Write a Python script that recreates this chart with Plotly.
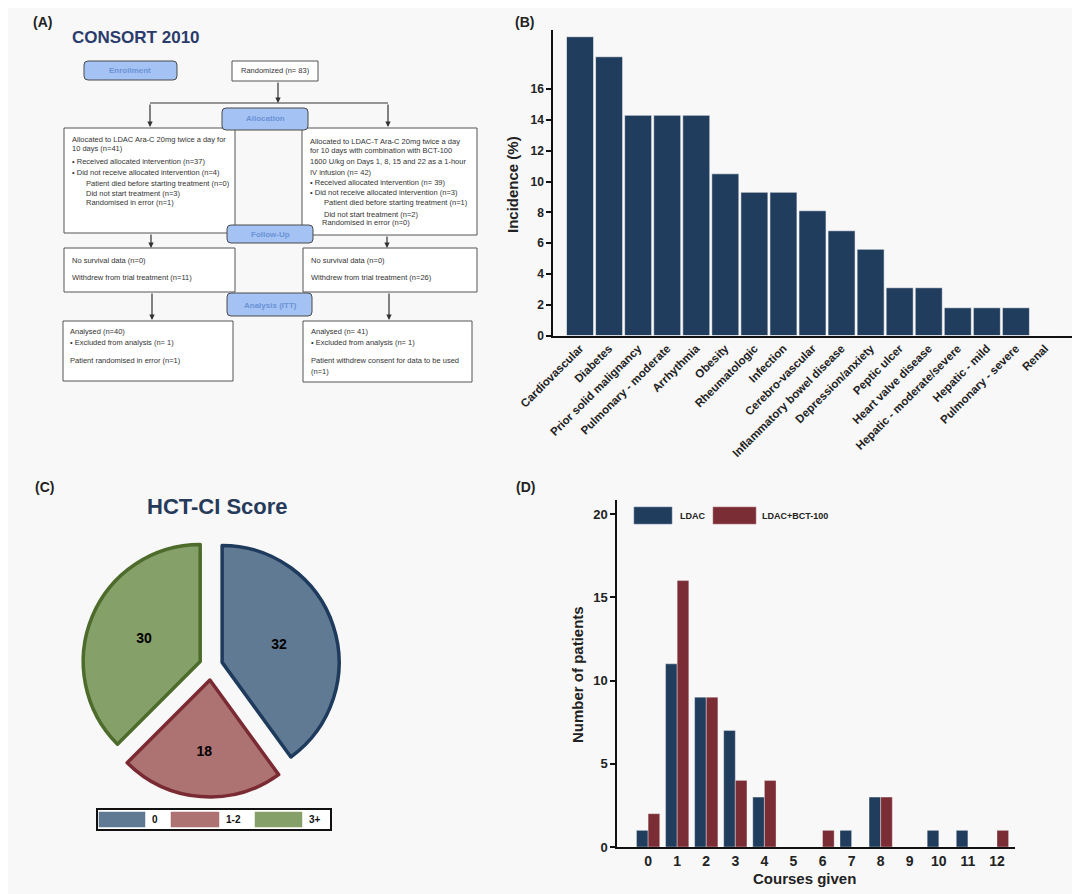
import plotly.graph_objects as go

W, H = 1080, 894
OFF = 8  # page body margin of the html page
FONT = "Arial, Liberation Sans, Helvetica, sans-serif"
BG = "#f8f8f8"


def X(p):
    return (p - OFF) / W


def Y(p):
    return 1 - (p - OFF) / H


# ---------------- data ----------------
comorbidities = ["Cardiovascular", "Diabetes", "Prior solid malignancy", "Pulmonary - moderate",
                 "Arrhythmia", "Obesity", "Rheumatologic", "Infection", "Cerebro-vascular",
                 "Inflammatory bowel disease", "Depression/anxiety", "Peptic ulcer",
                 "Heart valve disease", "Hepatic - moderate/severe", "Hepatic - mild",
                 "Pulmonary - severe", "Renal"]
incidence = [19.4, 18.1, 14.3, 14.3, 14.3, 10.5, 9.3, 9.3, 8.1, 6.8, 5.6, 3.1, 3.1, 1.8, 1.8, 1.8, 0.0]
incidence_ticks = [0, 2, 4, 6, 8, 10, 12, 14, 16]

hct_labels = ["0", "1-2", "3+"]
hct_values = [32, 18, 30]

courses = [0, 1, 2, 3, 4, 5, 6, 7, 8, 9, 10, 11, 12]
ldac = [1, 11, 9, 7, 3, 0, 0, 1, 3, 0, 1, 1, 0]
ldac_bct = [2, 16, 9, 4, 4, 0, 1, 0, 3, 0, 0, 0, 1]
patient_ticks = [0, 5, 10, 15, 20]

NAVY = "#213d5d"
DRED = "#7b2d35"

fig = go.Figure()

# Panel B
fig.add_trace(go.Bar(x=comorbidities, y=incidence, marker=dict(color=NAVY, line=dict(color="rgba(255,255,255,0.7)", width=0.8)),
                     width=0.93, xaxis="x", yaxis="y", showlegend=False))

# Panel D
fig.add_trace(go.Bar(x=courses, y=ldac, name="LDAC", width=0.4, offset=-0.4,
                     marker=dict(color=NAVY, line=dict(color="rgba(255,255,255,0.6)", width=0.6)),
                     xaxis="x2", yaxis="y2", showlegend=False))
fig.add_trace(go.Bar(x=courses, y=ldac_bct, name="LDAC+BCT-100", width=0.4, offset=0,
                     marker=dict(color=DRED, line=dict(color="rgba(255,255,255,0.6)", width=0.6)),
                     xaxis="x2", yaxis="y2", showlegend=False))

# Panel C
fig.add_trace(go.Pie(labels=hct_labels, values=hct_values, sort=False, direction="clockwise", rotation=0,
                     pull=[0.10, 0.12, 0.10],
                     marker=dict(colors=["#5f7a92", "#ad7272", "#86a06a"],
                                 line=dict(color=["#1e3a5c", "#7a2a32", "#4d6b2a"], width=3.5)),
                     textinfo="value", textposition="inside", insidetextorientation="horizontal",
                     textfont=dict(size=14, color="black", family=FONT, weight="bold"),
                     domain=dict(x=[X(80), X(342)], y=[Y(797), Y(535)]),
                     automargin=False,
                     showlegend=False, hoverinfo="label+value"))

shapes = []
annotations = []


def text(x, y, s, size=7.5, color="#333333", anchor="left", bold=False, angle=0):
    annotations.append(dict(x=X(x), y=Y(y), xref="paper", yref="paper", text=s, showarrow=False,
                            xanchor=anchor, yanchor="middle", textangle=angle,
                            font=dict(size=size, color=color, family=FONT, weight="bold" if bold else "normal")))


def rect(x0, y0, x1, y1, fill="white", line="#555555", width=1):
    shapes.append(dict(type="rect", xref="paper", yref="paper", x0=X(x0), x1=X(x1), y0=Y(y1), y1=Y(y0),
                       fillcolor=fill, line=dict(color=line, width=width)))


def rrect(x0, y0, x1, y1, r=4, fill="#a4c2f4", line="#4a4a4a"):
    p = (f"M {X(x0 + r)},{Y(y0)} L {X(x1 - r)},{Y(y0)} Q {X(x1)},{Y(y0)} {X(x1)},{Y(y0 + r)} "
         f"L {X(x1)},{Y(y1 - r)} Q {X(x1)},{Y(y1)} {X(x1 - r)},{Y(y1)} "
         f"L {X(x0 + r)},{Y(y1)} Q {X(x0)},{Y(y1)} {X(x0)},{Y(y1 - r)} "
         f"L {X(x0)},{Y(y0 + r)} Q {X(x0)},{Y(y0)} {X(x0 + r)},{Y(y0)} Z")
    shapes.append(dict(type="path", xref="paper", yref="paper", path=p, fillcolor=fill,
                       line=dict(color=line, width=1)))


def hline(x0, x1, y):
    shapes.append(dict(type="line", xref="paper", yref="paper", x0=X(x0), x1=X(x1), y0=Y(y), y1=Y(y),
                       line=dict(color="#333333", width=1.2)))


def arrow(x, y0, y1):
    annotations.append(dict(x=X(x), y=Y(y1), xref="paper", yref="paper", ax=0, ay=-(y1 - y0), text="",
                            showarrow=True, arrowhead=2, arrowsize=0.9, arrowwidth=1.2, arrowcolor="#333333"))


BLUE_TXT = "#6a93d6"

# ---------------- Panel A: flowchart ----------------
text(70, 37, "CONSORT 2010", size=17, color="#2b3b6b", bold=True)

rrect(84, 61, 177, 80)
text(130, 71, "Enrollment", size=8, color=BLUE_TXT, anchor="center", bold=True)
rect(232, 61, 318, 81)
text(275, 71, "Randomized (n= 83)", anchor="center")
arrow(278, 81, 103)
hline(150, 388, 103)
arrow(150, 103, 127)
arrow(388, 103, 127)

rect(64, 128, 235, 233)
rect(302, 128, 477, 235)
left_alloc = [(70, 139, "Allocated to LDAC Ara-C 20mg twice a day for"),
              (70, 149, "10 days (n=41)"),
              (70, 161, "• Received allocated intervention (n=37)"),
              (70, 172, "• Did not receive allocated intervention (n=4)"),
              (84, 183, "Patient died before starting treatment (n=0)"),
              (84, 193, "Did not start treatment (n=3)"),
              (84, 203, "Randomised in error (n=1)")]
right_alloc = [(308, 141, "Allocated to LDAC-T Ara-C 20mg twice a day"),
               (308, 151, "for 10 days with combination with BCT-100"),
               (308, 161, "1600 U/kg on Days 1, 8, 15 and 22 as a 1-hour"),
               (308, 172, "IV infusion (n= 42)"),
               (308, 182, "• Received allocated intervention (n= 39)"),
               (308, 192, "• Did not receive allocated intervention (n=3)"),
               (322, 203, "Patient died before starting treatment (n=1)"),
               (322, 214, "Did not start treatment (n=2)"),
               (320, 223, "Randomised in error (n=0)")]
for x, y, s in left_alloc + right_alloc:
    text(x, y, s)
rrect(222, 108, 308, 130)
text(265, 119, "Allocation", size=8, color=BLUE_TXT, anchor="center", bold=True)

arrow(151, 233, 248)
arrow(387, 235, 248)
rect(64, 248, 235, 292)
rect(303, 248, 477, 292)
for x, y, s in [(70, 260, "No survival data (n=0)"), (70, 277, "Withdrew from trial treatment (n=11)"),
                (309, 260, "No survival data (n=0)"), (309, 277, "Withdrew from trial treatment (n=26)")]:
    text(x, y, s)
rrect(227, 225, 313, 243)
text(270, 234, "Follow-Up", size=8, color=BLUE_TXT, anchor="center", bold=True)

arrow(152, 292, 320)
arrow(389, 292, 320)
rect(63, 321, 233, 381)
rect(303, 321, 472, 382)
for x, y, s in [(68, 332, "Analysed (n=40)"), (68, 342, "• Excluded from analysis (n= 1)"),
                (68, 361, "Patient randomised in error (n=1)"),
                (309, 332, "Analysed (n= 41)"), (309, 342, "• Excluded from analysis (n= 1)"),
                (309, 361, "Patient withdrew consent for data to be used"), (309, 372, "(n=1)")]:
    text(x, y, s)
rrect(227, 293, 312, 316)
text(270, 305, "Analysis (ITT)", size=8, color=BLUE_TXT, anchor="center", bold=True)

# ---------------- panel labels & titles ----------------
for x, y, s in [(42, 22, "(A)"), (524, 22, "(B)"), (44, 487, "(C)"), (525, 487, "(D)")]:
    text(x, y, s, size=14, color="#222222", anchor="center", bold=True)

text(512, 185, "Incidence (%)", size=15, color="#222222", anchor="center", bold=True, angle=-90)
text(577, 675, "Number of patients", size=15, color="#222222", anchor="center", bold=True, angle=-90)
text(804, 878, "Courses given", size=15, color="#222222", anchor="center", bold=True)
text(217, 506, "HCT-CI Score", size=22, color="#263a5a", anchor="center", bold=True)

# Panel C legend
rect(97, 809, 331, 830, fill="white", line="#111111", width=2)
rect(99, 812, 145, 827, fill="#5f7a92", line="#5f7a92", width=0.5)
text(150, 819.5, "0", size=10, color="#111111", bold=True)
rect(171, 812, 219, 827, fill="#ad7272", line="#ad7272", width=0.5)
text(224, 819.5, "1-2", size=10, color="#111111", bold=True)
rect(255, 812, 302, 827, fill="#86a06a", line="#86a06a", width=0.5)
text(307, 819.5, "3+", size=10, color="#111111", bold=True)

# Panel D legend
rect(634, 507, 672, 524, fill=NAVY, line="#6f85a0", width=0.6)
text(678, 516, "LDAC", size=9, color="#222222", bold=True)
rect(713, 507, 756, 524, fill=DRED, line="#b07a80", width=0.6)
text(760, 516, "LDAC+BCT-100", size=9, color="#222222", bold=True)

axis_common = dict(showgrid=False, zeroline=False, showline=True, linecolor="#111111", linewidth=1.5,
                   tickcolor="#111111", automargin=False)

fig.update_layout(
    width=W, height=H, autosize=False,
    margin=dict(l=0, r=0, t=0, b=0, pad=0),
    paper_bgcolor=BG, plot_bgcolor=BG,
    font=dict(family=FONT, color="#222222"),
    barmode="group",
    xaxis=dict(domain=[X(553), X(1072)], range=[-0.93, 16.93], anchor="y", ticks="", tickangle=-45,
               tickfont=dict(size=11.5, weight="bold", color="#222222"), **axis_common),
    yaxis=dict(domain=[Y(335.5), Y(30)], range=[0, (335.5 - 30) / 15.4], anchor="x",
               tickvals=incidence_ticks, ticks="outside", ticklen=5, tickwidth=1.5,
               tickfont=dict(size=12, weight="bold", color="#222222"), **axis_common),
    xaxis2=dict(domain=[X(617), X(1015)], range=[-1.07, 12.62], anchor="y2", tickvals=courses, ticks="",
                tickfont=dict(size=14, weight="bold", color="#222222"), **axis_common),
    yaxis2=dict(domain=[Y(847), Y(500)], range=[0, 20 * (847 - 500) / (847 - 514)], anchor="x2",
                tickvals=patient_ticks, ticks="outside", ticklen=5, tickwidth=1.5,
                tickfont=dict(size=13, weight="bold", color="#222222"), **axis_common),
    shapes=shapes,
    annotations=annotations,
)

fig.write_html("out.html", config={"responsive": False})
